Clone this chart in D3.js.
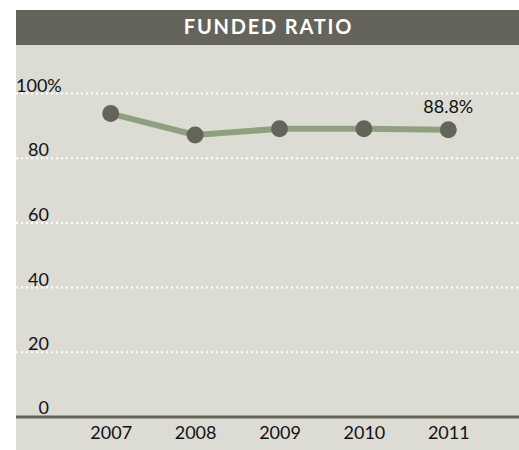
<!DOCTYPE html>
<html>
<head>
<meta charset="utf-8">
<script src="https://cdn.jsdelivr.net/npm/d3@7"></script>
<style>
  html, body { margin: 0; padding: 0; background: #ffffff; }
  svg { display: block; }
  text { font-family: Lato, "Open Sans", sans-serif; fill: #111111; }
</style>
</head>
<body>
<svg id="chart" width="519" height="450"></svg>
<script>
// Funded ratio by fiscal year
const years = ["2007", "2008", "2009", "2010", "2011"];
const fundedRatio = [93.8, 87.2, 89.1, 89.1, 88.8];
const yTicks = [0, 20, 40, 60, 80, 100];
const title = "FUNDED RATIO";

const panel = { left: 16, right: 519, top: 10, titleBottom: 45, bottom: 450 };
const labelSize = "18px";

const svg = d3.select("#chart");

// panel background and title bar
svg.append("rect")
  .attr("x", panel.left).attr("y", panel.titleBottom)
  .attr("width", panel.right - panel.left).attr("height", panel.bottom - panel.titleBottom)
  .attr("fill", "#dcdcd4");
svg.append("rect")
  .attr("x", panel.left).attr("y", panel.top)
  .attr("width", panel.right - panel.left).attr("height", panel.titleBottom - panel.top)
  .attr("fill", "#64645a");
svg.append("text")
  .attr("x", (panel.left + panel.right) / 2 + 1).attr("y", 34)
  .attr("text-anchor", "middle")
  .style("fill", "#ffffff")
  .style("font-weight", "bold")
  .style("font-size", "20px")
  .style("letter-spacing", "1.8px")
  .text(title);

// scales
const x = d3.scalePoint().domain(years).range([110.7, 448.3]);
const y = d3.scaleLinear().domain([0, 100]).range([417, 93.5]);

// dotted gridlines
const grid = svg.append("g");
grid.selectAll("line")
  .data(yTicks.filter(d => d > 0))
  .join("line")
  .attr("x1", panel.left).attr("x2", panel.right)
  .attr("y1", d => y(d)).attr("y2", d => y(d))
  .attr("stroke", "#ffffff")
  .attr("stroke-width", 2)
  .attr("stroke-dasharray", "2,3");

// y tick labels
grid.selectAll("text")
  .data(yTicks)
  .join("text")
  .attr("x", d => d === 100 ? panel.left : 49)
  .attr("y", d => d === 0 ? y(d) - 3 : y(d) - 2)
  .attr("text-anchor", d => d === 100 ? "start" : "end")
  .style("font-size", labelSize)
  .text(d => d === 100 ? d + "%" : d);

// baseline axis
svg.append("line")
  .attr("x1", panel.left).attr("x2", panel.right)
  .attr("y1", y(0)).attr("y2", y(0))
  .attr("stroke", "#64645a")
  .attr("stroke-width", 3);

// x axis labels
const xAxis = d3.axisBottom(x).tickSize(0).tickPadding(0);
const gx = svg.append("g")
  .attr("transform", `translate(0,${y(0)})`)
  .call(xAxis);
gx.select(".domain").remove();
gx.selectAll("text")
  .attr("y", 22)
  .attr("dy", 0)
  .style("font-family", "Lato, 'Open Sans', sans-serif")
  .style("font-size", labelSize)
  .style("fill", "#111111");

// line and markers
const data = years.map((yr, i) => ({ year: yr, value: fundedRatio[i] }));
const line = d3.line().x(d => x(d.year)).y(d => y(d.value));

svg.append("path")
  .datum(data)
  .attr("d", line)
  .attr("fill", "none")
  .attr("stroke", "#8fa07f")
  .attr("stroke-width", 6);

svg.append("g").selectAll("circle")
  .data(data)
  .join("circle")
  .attr("cx", d => x(d.year))
  .attr("cy", d => y(d.value))
  .attr("r", 8.5)
  .attr("fill", "#64645a");

// value label on the latest year
const last = data[data.length - 1];
svg.append("text")
  .attr("x", x(last.year))
  .attr("y", y(last.value) - 17)
  .attr("text-anchor", "middle")
  .style("font-size", labelSize)
  .text(d3.format(".1f")(last.value) + "%");
</script>
</body>
</html>
